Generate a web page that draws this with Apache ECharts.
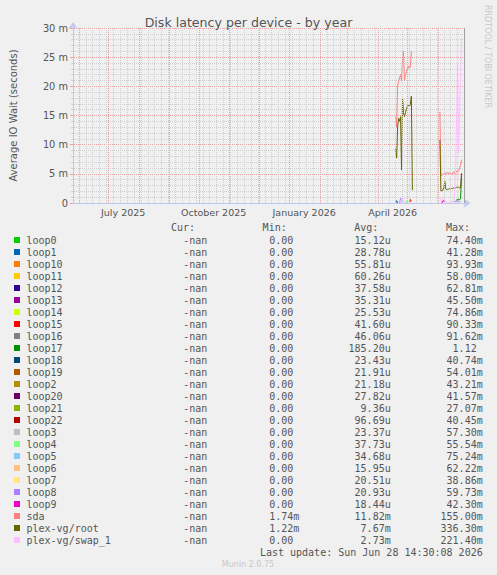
<!DOCTYPE html>
<html>
<head>
<meta charset="utf-8">
<script src="https://cdn.jsdelivr.net/npm/echarts@6/dist/echarts.min.js"></script>
<style>
  html, body { margin: 0; padding: 0; background: #f0f0f0; }
  #main { width: 497px; height: 575px; }
</style>
</head>
<body>
<div id="main"></div>
<script>
// days shown on the x axis (one per pixel, like the rrd yearly archive)
const firstDay = Date.UTC(2025, 4, 26)
const dayCount = 399
const monthNames = ['January', 'February', 'March', 'April', 'May', 'June', 'July',
  'August', 'September', 'October', 'November', 'December']

// y axis ticks, values are in milliseconds
const yTicks = [0, 5, 10, 15, 20, 25, 30]

// legend rows
const names = ['loop0', 'loop1', 'loop10', 'loop11', 'loop12', 'loop13', 'loop14', 'loop15',
  'loop16', 'loop17', 'loop18', 'loop19', 'loop2', 'loop20', 'loop21', 'loop22', 'loop3',
  'loop4', 'loop5', 'loop6', 'loop7', 'loop8', 'loop9', 'sda', 'plex-vg/root', 'plex-vg/swap_1']
const colors = ['#00cc00', '#0066b3', '#ff8000', '#ffcc00', '#330099', '#990099', '#ccff00',
  '#ff0000', '#808080', '#008f00', '#00487d', '#b35a00', '#b38f00', '#6b006b', '#8fb300',
  '#b30000', '#bebebe', '#80ff80', '#80c9ff', '#ffc080', '#ffe680', '#aa80ff', '#ee00cc',
  '#ff8080', '#666600', '#ffbfff']
const curVals = names.map(() => '-nan')
const minVals = ['0.00', '0.00', '0.00', '0.00', '0.00', '0.00', '0.00', '0.00', '0.00', '0.00',
  '0.00', '0.00', '0.00', '0.00', '0.00', '0.00', '0.00', '0.00', '0.00', '0.00', '0.00', '0.00',
  '0.00', '1.74m', '1.22m', '0.00']
const avgVals = ['15.12u', '28.78u', '55.81u', '60.26u', '37.58u', '35.31u', '25.53u', '41.60u',
  '46.06u', '185.20u', '23.43u', '21.91u', '21.18u', '27.82u', '9.36u', '96.69u', '23.37u',
  '37.73u', '34.68u', '15.95u', '20.51u', '20.93u', '18.44u', '11.82m', '7.67m', '2.73m']
const maxVals = ['74.40m', '41.28m', '93.93m', '58.00m', '62.81m', '45.50m', '74.86m', '90.33m',
  '91.62m', '1.12', '40.74m', '54.01m', '43.21m', '41.57m', '27.07m', '40.45m', '57.30m',
  '55.54m', '75.24m', '62.22m', '38.86m', '59.73m', '42.30m', '155.00m', '336.30m', '221.40m']

// visible data, [first day, daily values in ms]
const sdaSegs = [
  ['2026-04-19', [14.8, 13.0, 20.0, 20.8, 21.5, 22.0, 21.0, 24.5, 26.0, 21.0, 22.0, 22.5, 23.0, 23.5, 23.0, 23.5, 26.0]],
  ['2026-06-03', [15.6, 4.7, 4.8, 4.9, 5.0, 5.2, 4.9, 5.1, 5.3, 5.0, 5.2, 5.0, 4.9, 5.1, 5.4, 5.0, 5.2, 5.5, 5.3, 5.6, 6.0, 6.5, 7.4]]
]
const rootSegs = [
  ['2026-04-19', [9.3, 7.7, 13.0, 14.5, 14.0, 14.8, 5.7, 18.0, 15.5, 14.8, 15.5, 16.2, 16.6, 16.8, 16.5, 17.0, 18.3, 2.2]],
  ['2026-06-03', [10.8, 2.1, 2.1, 2.2, 2.6, 3.7, 2.4, 2.3, 2.3, 2.4, 2.5, 2.4, 2.5, 2.5, 2.6, 2.5, 2.6, 2.7, 2.6, 2.7, 2.6, 2.6, 5.1]]
]
const swapSegs = [
  ['2026-04-24', [0, 0.5, 0.9, 0.4, 0]],
  ['2026-06-03', [0.9, 0.4, 0.3, 0.6, 0.9, 0.5, 0.2, 0.1, 0.1, 0.1, 0.1, 0.1, 0.2, 0.2, 0.3, 2.0, 6.2, 15.0, 23.7, 8.6, 15.0, 22.0, 28.2]]
]
const loop17Segs = [['2026-06-19', [0.2, 0.4, 0.8, 0.5, 0.6, 0.7, 4.8]]]
const loop1Segs = [['2026-04-19', [0, 0.4, 0]]]
const loop8Segs = [['2026-04-23', [0, 0.8, 0.6, 0]], ['2026-06-16', [0.2, 0.3, 0.2, 0.3, 0.4, 0.3, 0.2, 0.3, 0.2]]]
const loop4Segs = [['2026-04-29', [0, 0.4, 0]]]
const loop15Segs = [['2026-05-03', [0, 0.6, 0.3]]]
const loop9Segs = [['2026-06-05', [0, 0.5, 0.3, 0]]]

const segsByName = {
  'loop1': loop1Segs, 'loop4': loop4Segs, 'loop8': loop8Segs, 'loop9': loop9Segs,
  'loop15': loop15Segs, 'loop17': loop17Segs,
  'sda': sdaSegs, 'plex-vg/root': rootSegs, 'plex-vg/swap_1': swapSegs
}

const days = []
for (let i = 0; i < dayCount; i++) {
  days.push(new Date(firstDay + i * 86400000).toISOString().slice(0, 10))
}

// spread the segments over the whole day list, gaps stay null
const toDaily = (segs) => {
  const arr = new Array(dayCount).fill(null)
  segs.forEach(([d, vals]) => {
    const start = days.indexOf(d)
    vals.forEach((v, k) => { arr[start + k] = v })
  })
  return arr
}

const isSunday = (d) => new Date(d + 'T00:00:00Z').getUTCDay() === 0
const isMonthStart = (d) => d.slice(8) === '01'
const isQuarterLabel = (d) => d.slice(8) === '16' && [1, 4, 7, 10].includes(+d.slice(5, 7))

const font = 'DejaVu Sans'
const mono = '"DejaVu Sans Mono"'
const textColor = '#555'

// vertical grid: grey each week, red each month
const gridSeries = [
  { days: days.filter(isSunday), color: '#d0d0d0' },
  { days: days.filter(isMonthStart), color: '#e8a0a0' }
].map(g => ({
  type: 'line',
  data: [],
  silent: true,
  z: 1,
  markLine: {
    symbol: 'none',
    silent: true,
    animation: false,
    label: { show: false },
    lineStyle: { type: [1, 1], color: g.color, width: 1 },
    data: g.days.map(d => ({ xAxis: d }))
  }
}))

const series = gridSeries.concat(names.map((name, i) => ({
  name: name,
  type: 'line',
  data: segsByName[name] ? toDaily(segsByName[name]) : [],
  showSymbol: false,
  symbol: 'none',
  connectNulls: false,
  silent: true,
  lineStyle: { width: 1, color: colors[i] },
  itemStyle: { color: colors[i] }
})))

// grey line at the right end of the plot
series.push({
  type: 'line',
  data: [],
  silent: true,
  markLine: {
    symbol: 'none',
    silent: true,
    label: { show: false },
    lineStyle: { type: 'solid', color: '#a0a0a0', width: 1 },
    data: [{ xAxis: days[dayCount - 1] }]
  }
})

// legend table as text
const graphics = []
const rowY = (i) => 240 + i * 12
const padUnit = (s) => /[0-9]$/.test(s) ? s + '\u00a0' : s
const headers = [['Cur:', 195], ['Min:', 286.7], ['Avg:', 378.3], ['Max:', 470]]
headers.forEach(([t, x]) => {
  graphics.push({ type: 'text', x: x, y: 227, silent: true,
    style: { text: t, fill: textColor, font: '10px ' + mono, align: 'right', verticalAlign: 'middle' } })
})
names.forEach((name, i) => {
  const y = rowY(i)
  graphics.push({ type: 'rect', shape: { x: 14, y: y - 3, width: 6, height: 6 }, silent: true,
    style: { fill: colors[i] } })
  graphics.push({ type: 'text', x: 26.5, y: y, silent: true,
    style: { text: name, fill: textColor, font: '10px ' + mono, align: 'left', verticalAlign: 'middle' } })
  const cols = [[curVals[i], 207.3], [minVals[i], 299.3], [avgVals[i], 390.7], [maxVals[i], 482.7]]
  cols.forEach(([t, x]) => {
    graphics.push({ type: 'text', x: x, y: y, silent: true,
      style: { text: padUnit(t), fill: textColor, font: '10px ' + mono, align: 'right', verticalAlign: 'middle' } })
  })
})
graphics.push({ type: 'text', x: 482.7, y: 552, silent: true,
  style: { text: 'Last update: Sun Jun 28 14:30:08 2026', fill: textColor, font: '10px ' + mono,
    align: 'right', verticalAlign: 'middle' } })
graphics.push({ type: 'text', x: 248, y: 564, silent: true,
  style: { text: 'Munin 2.0.75', fill: '#c8c8c8', font: '8px ' + font, align: 'center', verticalAlign: 'middle' } })
graphics.push({ type: 'text', x: 487, y: 5, rotation: -Math.PI / 2, silent: true,
  style: { text: 'RRDTOOL / TOBI OETIKER', fill: '#c8c8c8', font: '8px ' + font, align: 'left', verticalAlign: 'middle' } })

const option = {
  backgroundColor: '#f0f0f0',
  animation: false,
  title: {
    text: 'Disk latency per device - by year',
    left: 'center',
    top: 11,
    textStyle: { fontFamily: font, fontSize: 12.6, fontWeight: 'normal', color: textColor }
  },
  // half pixel offset keeps the 1px dotted vertical lines sharp
  grid: { left: 66.5, top: 28, width: 398, height: 175, containLabel: false },
  xAxis: {
    type: 'category',
    data: days,
    boundaryGap: false,
    axisLine: {
      show: true,
      lineStyle: { color: '#c0c8f0', width: 1 },
      symbol: ['none', 'arrow'],
      symbolSize: [7, 7],
      symbolOffset: [0, 6]
    },
    axisTick: { show: false },
    axisLabel: {
      interval: (idx, val) => isQuarterLabel(val),
      formatter: (val) => monthNames[+val.slice(5, 7) - 1] + ' ' + val.slice(0, 4),
      color: textColor,
      fontFamily: font,
      fontSize: 9.5,
      margin: 4
    },
    splitLine: { show: false },
    z: 3
  },
  yAxis: {
    type: 'value',
    min: yTicks[0],
    max: yTicks[yTicks.length - 1],
    interval: 5,
    name: 'Average IO Wait (seconds)',
    nameLocation: 'middle',
    nameGap: 55,
    nameTextStyle: { fontFamily: font, fontSize: 10, color: textColor },
    axisLine: {
      show: true,
      lineStyle: { color: '#c0c8f0', width: 1 },
      symbol: ['none', 'arrow'],
      symbolSize: [7, 7],
      symbolOffset: [0, 6]
    },
    axisTick: { show: true, length: 3, lineStyle: { color: '#e8a0a0' } },
    minorTick: { show: true, splitNumber: 5, length: 2, lineStyle: { color: '#d0d0d0' } },
    axisLabel: {
      formatter: (v) => v === 0 ? '0' : v + ' m',
      color: textColor,
      fontFamily: font,
      fontSize: 9.8,
      margin: 5
    },
    // dash offset puts the dots back on whole pixels
    splitLine: { show: true, lineStyle: { color: '#e8a0a0', type: [1, 1], dashOffset: 0.5, width: 1 } },
    minorSplitLine: { show: true, lineStyle: { color: '#d0d0d0', type: [1, 1], dashOffset: 0.5, width: 1 } }
  },
  graphic: { elements: graphics },
  series: series
}

const chart = echarts.init(document.getElementById('main'), null, { renderer: 'svg' })
chart.setOption(option)
</script>
</body>
</html>
